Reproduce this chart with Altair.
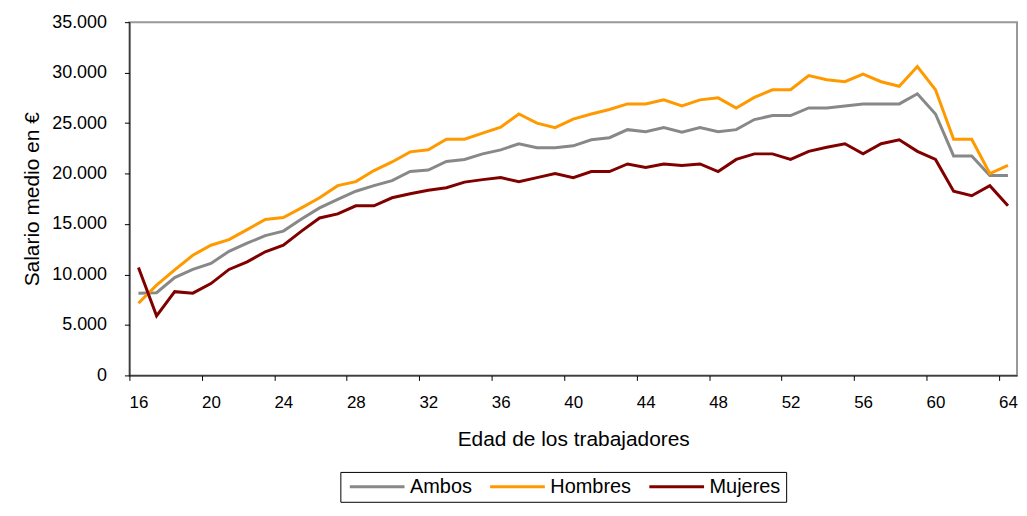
import altair as alt
import pandas as pd

ages = list(range(16, 65))
series = ["Ambos", "Hombres", "Mujeres"]
colors = ["#888888", "#FF9900", "#800000"]

ambos = [8150, 8200, 9700, 10500, 11100, 12300, 13100, 13850, 14300, 15500,
         16600, 17450, 18250, 18800, 19300, 20200, 20350, 21200, 21400, 21950,
         22350, 22950, 22550, 22550, 22750, 23350, 23550, 24350, 24150, 24550,
         24100, 24550, 24150, 24350, 25350, 25750, 25750, 26500, 26500, 26700,
         26900, 26900, 26900, 27900, 25900, 21750, 21750, 19800, 19800]
hombres = [7150, 8950, 10450, 11900, 12900, 13450, 14450, 15450, 15650, 16600,
           17600, 18800, 19200, 20300, 21150, 22150, 22350, 23400, 23400, 24000,
           24600, 25900, 25000, 24550, 25400, 25900, 26350, 26900, 26900, 27300,
           26700, 27300, 27500, 26500, 27550, 28300, 28300, 29700, 29300, 29100,
           29850, 29100, 28650, 30600, 28300, 23400, 23400, 20000, 20800]
mujeres = [10700, 5900, 8300, 8150, 9100, 10500, 11250, 12250, 12900, 14300,
           15600, 16000, 16800, 16800, 17600, 18000, 18350, 18600, 19150, 19400,
           19600, 19200, 19600, 20000, 19600, 20200, 20200, 20950, 20600, 20950,
           20800, 20950, 20200, 21400, 21950, 21950, 21400, 22200, 22600, 22950,
           21950, 22950, 23350, 22200, 21400, 18250, 17800, 18800, 16800]

tick_ages = list(range(16, 65, 4))
y_ticks = list(range(0, 35001, 5000))

rows = []
for name, vals in zip(series, [ambos, hombres, mujeres]):
    for a, v in zip(ages, vals):
        rows.append({"Edad": a, "Salario": v, "Serie": name})
df = pd.DataFrame(rows)

FONT = "Liberation Sans"
half = 892 / 49 / 2

chart = alt.Chart(df).mark_line(strokeWidth=3).encode(
    x=alt.X("Edad:Q",
            scale=alt.Scale(domain=[15.5, 64.5], nice=False, zero=False),
            axis=alt.Axis(values=tick_ages, title="Edad de los trabajadores",
                          tickOffset=-half, labelOffset=half, grid=False,
                          labelFlush=False, labelOverlap=False,
                          tickSize=5, labelPadding=14, titlePadding=18,
                          labelFontSize=17, titleFontSize=21)),
    y=alt.Y("Salario:Q",
            scale=alt.Scale(domain=[0, 35000], nice=False),
            axis=alt.Axis(values=y_ticks, title="Salario medio en €",
                          labelExpr="replace(format(datum.value, ','), ',', '.')",
                          grid=False, tickSize=5, labelPadding=18,
                          titlePadding=9, labelFontSize=18, titleFontSize=21)),
    color=alt.Color("Serie:N",
                    scale=alt.Scale(domain=series, range=colors),
                    legend=alt.Legend(orient="none", legendX=212, legendY=452,
                                      direction="horizontal", title=None,
                                      strokeColor="#000000", padding=5,
                                      symbolType="M-1,0H9", symbolSize=121,
                                      symbolStrokeWidth=3, labelFontSize=20,
                                      labelOffset=45, columnPadding=11,
                                      labelFont=FONT, labelColor="#000000")),
).properties(
    width=892, height=355,
    autosize=alt.AutoSizeParams(type="none"),
    padding={"left": 122, "top": 13, "right": 2, "bottom": 130},
).configure_view(
    stroke="#999999", strokeWidth=2
).configure_axis(
    labelFont=FONT, titleFont=FONT, labelColor="#000000", titleColor="#000000",
    domainColor="#000000", tickColor="#000000", titleFontWeight="normal"
)

chart.save("out.html", embed_options={"renderer": "svg", "actions": False})
